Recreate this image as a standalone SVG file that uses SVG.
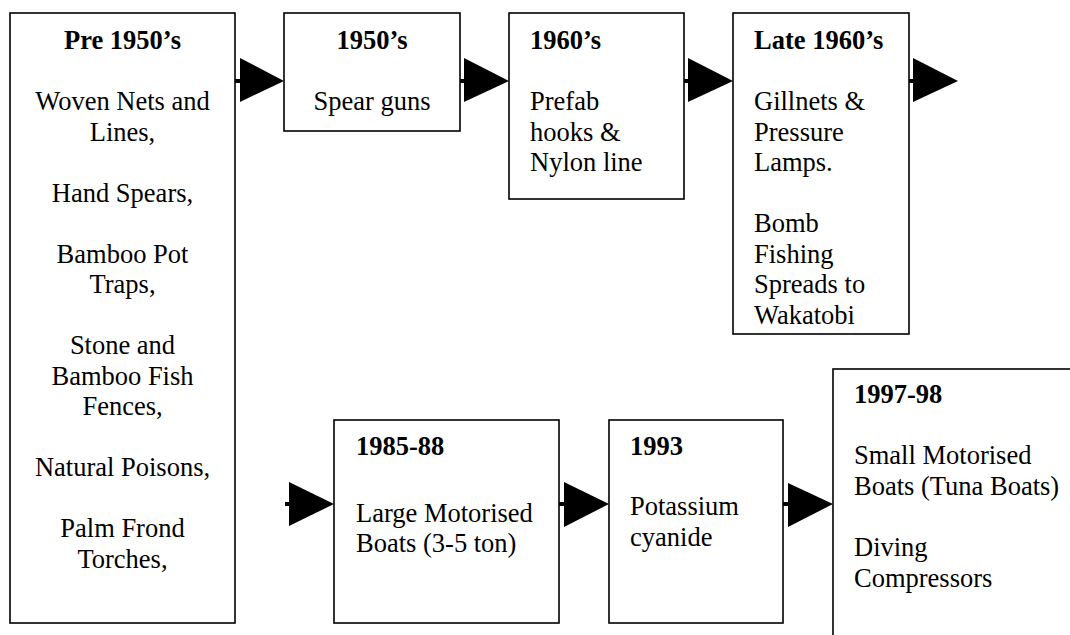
<svg xmlns="http://www.w3.org/2000/svg" width="1070" height="635" viewBox="0 0 1070 635">
<style>
.box{fill:#fff;stroke:#000;stroke-width:1.6}
text{font-family:"Liberation Serif","Times New Roman",serif;font-size:26.5px;fill:#000}
.t{font-weight:bold}
.c{text-anchor:middle}
.stub{stroke:#000;stroke-width:4}
.head{fill:#000}
</style>
<rect width="1070" height="635" fill="#fff"/>
<g id="connectors">
<line class="stub" x1="235" y1="81" x2="241" y2="81"/><polygon class="head" points="240,58 284,81 240,102"/>
<line class="stub" x1="460" y1="81" x2="465" y2="81"/><polygon class="head" points="464,58 509,81 464,102"/>
<line class="stub" x1="684" y1="81" x2="689" y2="81"/><polygon class="head" points="688,58 733,81 688,102"/>
<line class="stub" x1="909" y1="81" x2="914" y2="81"/><polygon class="head" points="913,58 958,81 913,102"/>
<line class="stub" x1="285" y1="504" x2="290" y2="504"/><polygon class="head" points="289,482 334,504 289,526"/>
<line class="stub" x1="559" y1="504" x2="565" y2="504"/><polygon class="head" points="564,482 609,504 564,527"/>
<line class="stub" x1="783" y1="504" x2="789" y2="504"/><polygon class="head" points="788,483 833,504 788,527"/>
</g>
<g id="n1">
<rect class="box" x="10" y="13" width="225" height="610"/>
<text class="t c" x="122.5" y="49">Pre 1950’s</text>
<text class="c" x="122.5" y="110">Woven Nets and</text>
<text class="c" x="122.5" y="140.5">Lines,</text>
<text class="c" x="122.5" y="201.5">Hand Spears,</text>
<text class="c" x="122.5" y="262.5">Bamboo Pot</text>
<text class="c" x="122.5" y="293">Traps,</text>
<text class="c" x="122.5" y="354">Stone and</text>
<text class="c" x="122.5" y="384.5">Bamboo Fish</text>
<text class="c" x="122.5" y="415">Fences,</text>
<text class="c" x="122.5" y="476">Natural Poisons,</text>
<text class="c" x="122.5" y="537">Palm Frond</text>
<text class="c" x="122.5" y="567.5">Torches,</text>
</g>
<g id="n2">
<rect class="box" x="284" y="13" width="176" height="118"/>
<text class="t c" x="372" y="49">1950’s</text>
<text class="c" x="372" y="110">Spear guns</text>
</g>
<g id="n3">
<rect class="box" x="509" y="13" width="175" height="186"/>
<text class="t" x="530" y="49">1960’s</text>
<text x="530" y="110">Prefab</text>
<text x="530" y="140.5">hooks &amp;</text>
<text x="530" y="171">Nylon line</text>
</g>
<g id="n4">
<rect class="box" x="733" y="13" width="176" height="321"/>
<text class="t" x="754" y="49">Late 1960’s</text>
<text x="754" y="110">Gillnets &amp;</text>
<text x="754" y="140.5">Pressure</text>
<text x="754" y="171">Lamps.</text>
<text x="754" y="232">Bomb</text>
<text x="754" y="262.5">Fishing</text>
<text x="754" y="293">Spreads to</text>
<text x="754" y="323.5">Wakatobi</text>
</g>
<g id="n5">
<rect class="box" x="334" y="420" width="225" height="203"/>
<text class="t" x="356" y="455">1985-88</text>
<text x="356" y="521.5">Large Motorised</text>
<text x="356" y="552">Boats (3-5 ton)</text>
</g>
<g id="n6">
<rect class="box" x="609" y="420" width="174" height="203"/>
<text class="t" x="630" y="455">1993</text>
<text x="630" y="515">Potassium</text>
<text x="630" y="545.5">cyanide</text>
</g>
<g id="n7">
<rect class="box" x="833" y="369" width="300" height="300"/>
<text class="t" x="854" y="403">1997-98</text>
<text x="854" y="464">Small Motorised</text>
<text x="854" y="494.5">Boats (Tuna Boats)</text>
<text x="854" y="556">Diving</text>
<text x="854" y="587">Compressors</text>
</g>
</svg>
